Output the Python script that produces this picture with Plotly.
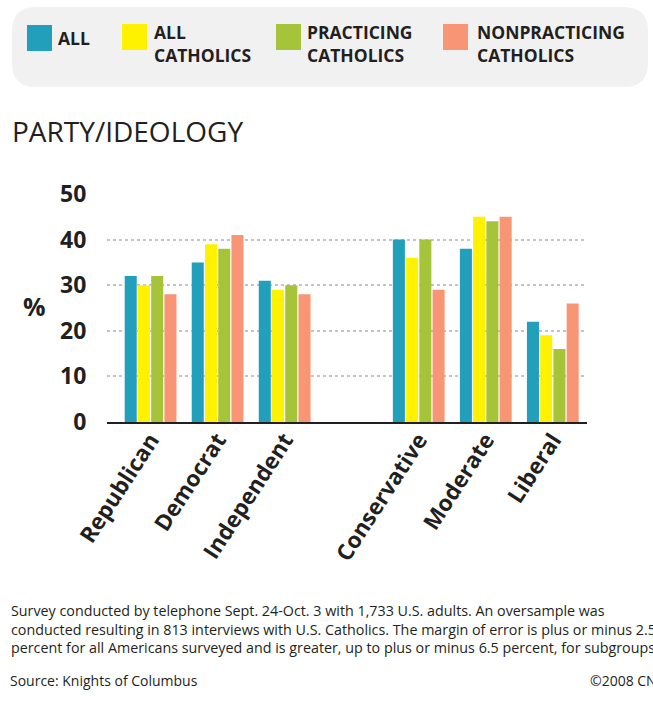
import plotly.graph_objects as go

# ---- data ----
categories = ["Republican", "Democrat", "Independent", "Conservative", "Moderate", "Liberal"]
axis_order = ["Republican", "Democrat", "Independent", " ", "Conservative", "Moderate", "Liberal"]
series_names = ["ALL", "ALL<br>CATHOLICS", "PRACTICING<br>CATHOLICS", "NONPRACTICING<br>CATHOLICS"]
all_vals = [32, 35, 31, 40, 38, 22]
all_catholics = [30, 39, 29, 36, 45, 19]
practicing = [32, 38, 30, 40, 44, 16]
nonpracticing = [28, 41, 28, 29, 45, 26]
y_ticks = [0, 10, 20, 30, 40, 50]
colors = ["#22a0bb", "#fff200", "#a6c43a", "#f79574"]
footnote_lines = [
    "Survey conducted by telephone Sept. 24-Oct. 3 with 1,733 U.S. adults. An oversample was",
    "conducted resulting in 813 interviews with U.S. Catholics. The margin of error is plus or minus 2.5",
    "percent for all Americans surveyed and is greater, up to plus or minus 6.5 percent, for subgroups.",
]

W, H = 653, 704
L, R, T, B = 107, 66, 194, 282
PW, PH = W - L - R, H - T - B
DARK = "#231f20"
FONT = "Open Sans"


def px(x):
    return (x - L) / PW


def py(y):
    return (H - B - y) / PH


fig = go.Figure()
for name, vals, col in zip(series_names, [all_vals, all_catholics, practicing, nonpracticing], colors):
    fig.add_trace(go.Bar(x=categories, y=vals, name=name, marker=dict(color=col, line=dict(width=0)),
                         showlegend=False))

shapes = []
annotations = []

# legend background (rounded rectangle)
x0, x1, y0, y1, r = 12, 648, 7, 87, 24
path = (f"M {px(x0 + r)},{py(y0)} L {px(x1 - r)},{py(y0)} "
        f"Q {px(x1)},{py(y0)} {px(x1)},{py(y0 + r)} L {px(x1)},{py(y1 - r)} "
        f"Q {px(x1)},{py(y1)} {px(x1 - r)},{py(y1)} L {px(x0 + r)},{py(y1)} "
        f"Q {px(x0)},{py(y1)} {px(x0)},{py(y1 - r)} L {px(x0)},{py(y0 + r)} "
        f"Q {px(x0)},{py(y0)} {px(x0 + r)},{py(y0)} Z")
shapes.append(dict(type="path", xref="paper", yref="paper", path=path,
                   fillcolor="#f1f1f1", line=dict(width=0), layer="below"))

sw_x = [27, 122, 276, 443]
sw_y = [25, 24, 24, 24]
txt_x = [56, 152, 305, 475]
for i, name in enumerate(series_names):
    shapes.append(dict(type="rect", xref="paper", yref="paper",
                       x0=px(sw_x[i]), x1=px(sw_x[i] + 25), y0=py(sw_y[i]), y1=py(sw_y[i] + 26),
                       fillcolor=colors[i], line=dict(width=0)))
    yc = 38 if i == 0 else 43
    annotations.append(dict(xref="paper", yref="paper", x=px(txt_x[i]), y=py(yc), text=f"<b>{name}</b>",
                            showarrow=False, xanchor="left", yanchor="middle", align="left",
                            font=dict(family=FONT, size=17.5, color=DARK)))

# title
annotations.append(dict(xref="paper", yref="paper", x=px(10), y=py(131), text="PARTY/IDEOLOGY",
                        showarrow=False, xanchor="left", yanchor="middle",
                        font=dict(family=FONT, size=28, color=DARK)))
# y-axis label
annotations.append(dict(xref="paper", yref="paper", x=px(34), y=py(306), text="<b>%</b>",
                        showarrow=False, xanchor="center", yanchor="middle",
                        font=dict(family=FONT, size=25, color=DARK)))
# footnote (one block)
annotations.append(dict(xref="paper", yref="paper", x=px(9), y=py(629), text="<br>".join(footnote_lines),
                        showarrow=False, xanchor="left", yanchor="middle", align="left",
                        font=dict(family=FONT, size=14.3, color=DARK)))
annotations.append(dict(xref="paper", yref="paper", x=px(8), y=py(680), text="Source: Knights of Columbus",
                        showarrow=False, xanchor="left", yanchor="middle",
                        font=dict(family=FONT, size=14, color=DARK)))
annotations.append(dict(xref="paper", yref="paper", x=px(588), y=py(680), text="©2008 CNS",
                        showarrow=False, xanchor="left", yanchor="middle",
                        font=dict(family=FONT, size=14, color=DARK)))

fig.update_layout(
    width=W, height=H,
    margin=dict(l=L, r=R, t=T, b=B, pad=0),
    paper_bgcolor="white", plot_bgcolor="white",
    barmode="group", bargap=0.21, bargroupgap=0.09,
    shapes=shapes, annotations=annotations,
    font=dict(family=FONT, color=DARK),
)
fig.update_xaxes(
    type="category", categoryorder="array", categoryarray=axis_order,
    range=[-0.65, 6.51],
    showgrid=False, showline=True, linecolor=DARK, linewidth=2,
    ticks="", ticklabelstandoff=-6,
    tickangle=-57, tickfont=dict(family=FONT, size=22.5, color=DARK),
    ticktext=[f"<b>{c}</b>" if c.strip() else c for c in axis_order], tickvals=axis_order,
    zeroline=False,
)
fig.update_yaxes(
    range=[0, 50], tickvals=y_ticks, ticktext=[f"<b>{v}</b>" for v in y_ticks],
    showgrid=True, gridcolor="#c4c4c4", gridwidth=1.5, griddash="dot",
    ticks="outside", ticklen=15, tickcolor="rgba(0,0,0,0)",
    tickfont=dict(family=FONT, size=23, color=DARK),
    zeroline=False, showline=False,
)

fig.write_html("out.html")
